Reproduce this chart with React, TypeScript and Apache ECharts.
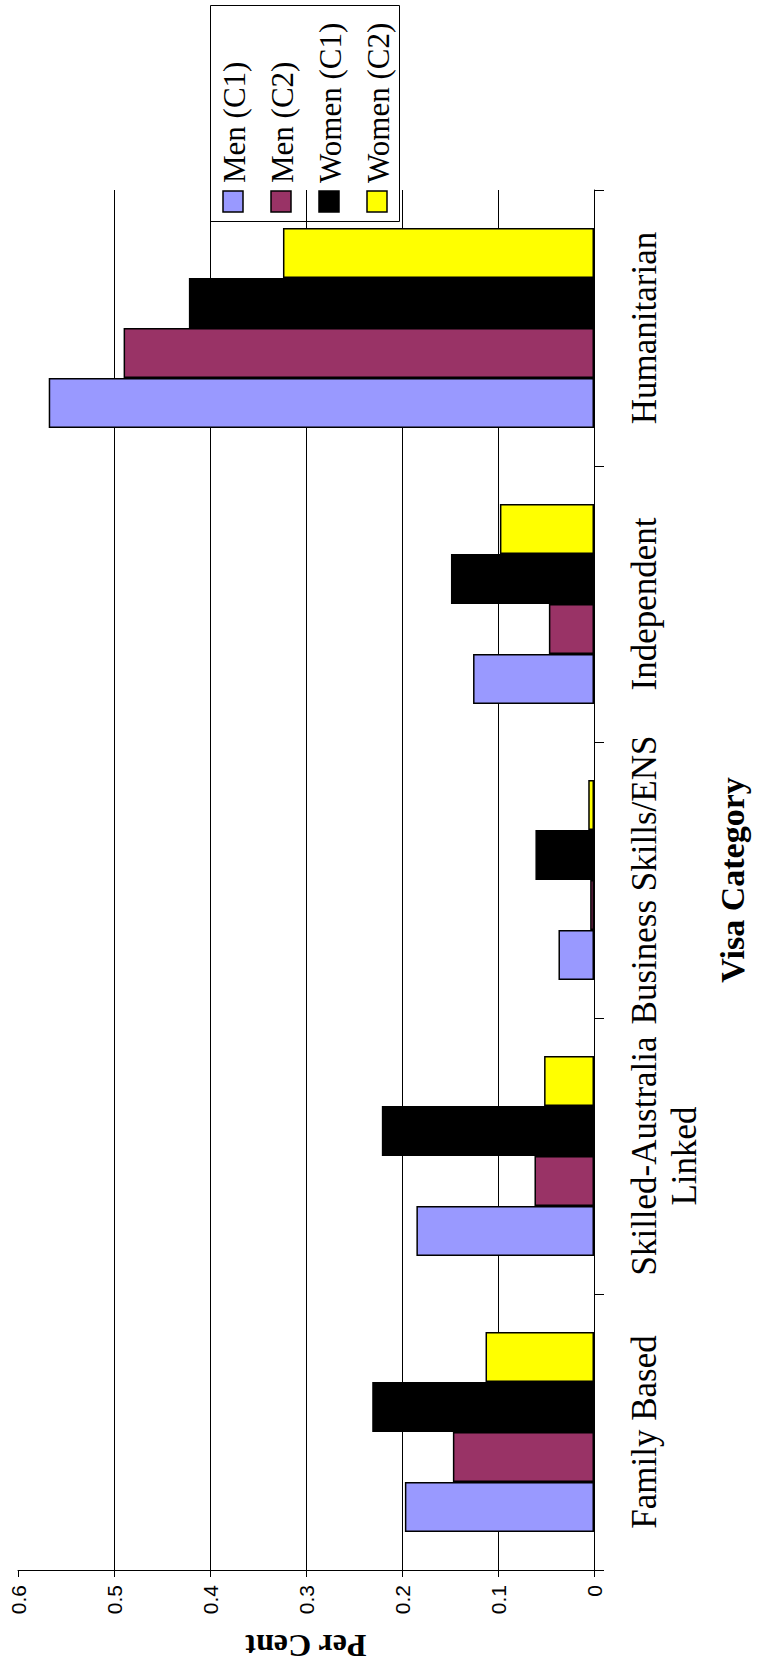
import React, { useEffect, useRef } from "react";
import * as echarts from "echarts";

const categories = [
  "Family Based",
  "Skilled-Australia Linked",
  "Business Skills/ENS",
  "Independent",
  "Humanitarian",
];
const seriesNames = ["Men (C1)", "Men (C2)", "Women (C1)", "Women (C2)"];
const menC1 = [0.197, 0.185, 0.037, 0.126, 0.568];
const menC2 = [0.147, 0.062, 0.004, 0.047, 0.49];
const womenC1 = [0.231, 0.221, 0.061, 0.149, 0.422];
const womenC2 = [0.113, 0.052, 0.006, 0.098, 0.324];
const seriesColors = ["#9999FF", "#993366", "#000000", "#FFFF00"];
const valueTickLabels = ["0", "0.1", "0.2", "0.3", "0.4", "0.5", "0.6"];

export default function App() {
  const ref = useRef<HTMLDivElement>(null);
  useEffect(() => {
    if (!ref.current) return;
    const chart = echarts.init(ref.current, undefined, { renderer: "svg" });
    const data = [menC1, menC2, womenC1, womenC2];
    // first series is drawn at the top of each band, so feed them reversed
    const order = [3, 2, 1, 0];
    const series = order.map((i) => ({
      name: seriesNames[i],
      type: "bar",
      data: data[i],
      barGap: "0%",
      barCategoryGap: "27.5%",
      itemStyle: { color: seriesColors[i], borderColor: "#000", borderWidth: 1.5 },
    }));

    const legendX = [233, 281, 329, 377];
    const legendEls: any[] = [
      {
        type: "rect",
        shape: { x: 210.5, y: 5.5, width: 189, height: 216 },
        style: { fill: "#fff", stroke: "#000", lineWidth: 1 },
      },
    ];
    seriesNames.forEach((n, i) => {
      legendEls.push({
        type: "rect",
        shape: { x: legendX[i] - 10, y: 191, width: 20, height: 21 },
        style: { fill: seriesColors[i], stroke: "#000", lineWidth: 1.5 },
      });
      legendEls.push({
        type: "text",
        x: legendX[i] + 1,
        y: 183,
        rotation: Math.PI / 2,
        style: {
          text: n,
          fill: "#000",
          font: "31px 'Liberation Serif'",
          align: "left",
          verticalAlign: "middle",
          textAlign: "left",
          textVerticalAlign: "middle",
        },
      });
    });

    chart.setOption({
      animation: false,
      backgroundColor: "#fff",
      grid: { left: 18, right: 161, top: 190, bottom: 102, containLabel: false },
      xAxis: {
        type: "value",
        inverse: true,
        min: 0,
        max: 0.6,
        interval: 0.1,
        position: "bottom",
        axisLine: { show: true, lineStyle: { color: "#000", width: 1 } },
        axisTick: { show: true, length: 7, lineStyle: { color: "#000" } },
        axisLabel: {
          rotate: 90,
          margin: 15,
          color: "#000",
          fontFamily: "Liberation Sans",
          fontSize: 21,
          formatter: (v: number) => valueTickLabels[Math.round(v * 10)],
        },
        splitLine: {
          show: true,
          lineStyle: {
            color: ["#000", "#000", "#000", "#000", "#000", "#000", "transparent"],
            width: 1,
          },
        },
        name: "Per Cent",
        nameLocation: "middle",
        nameRotate: 180,
        nameGap: 60,
        nameTextStyle: {
          fontFamily: "Liberation Serif",
          fontWeight: "bold",
          fontSize: 32,
          color: "#000",
        },
      },
      yAxis: {
        type: "category",
        position: "right",
        data: categories,
        axisLine: { show: true, lineStyle: { color: "#000", width: 1 } },
        axisTick: { show: true, length: 10, interval: 0, lineStyle: { color: "#000" } },
        axisLabel: {
          interval: 0,
          hideOverlap: false,
          rotate: 90,
          margin: 30,
          color: "#000",
          fontFamily: "Liberation Serif",
          fontSize: 35,
          lineHeight: 40,
          formatter: (v: string) => v.replace(" Linked", "\nLinked"),
        },
        splitLine: { show: false },
        name: "Visa Category",
        nameLocation: "middle",
        nameRotate: 90,
        nameGap: 121,
        nameTextStyle: {
          fontFamily: "Liberation Serif",
          fontWeight: "bold",
          fontSize: 34,
          color: "#000",
        },
      },
      series,
      graphic: legendEls,
    });
    return () => chart.dispose();
  }, []);
  return (
    <div
      ref={ref}
      style={{ position: "absolute", left: 0, top: 0, width: 757, height: 1672 }}
    />
  );
}
